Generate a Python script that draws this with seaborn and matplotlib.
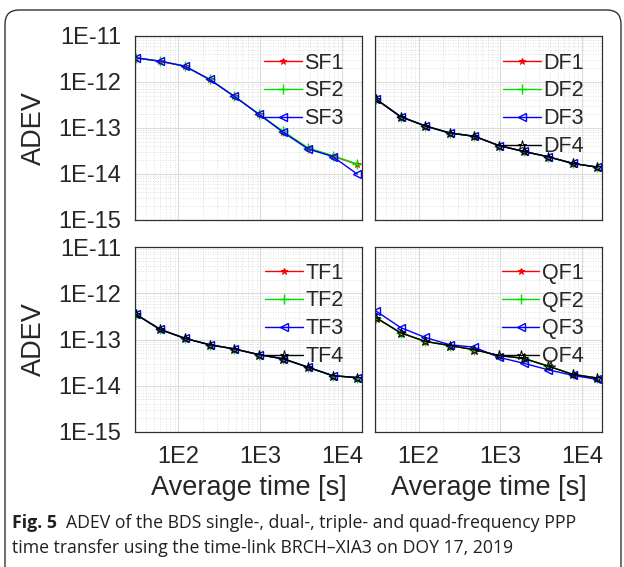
import matplotlib
matplotlib.use("Agg")
import matplotlib.pyplot as plt
import matplotlib.ticker as mticker
from matplotlib.patches import FancyBboxPatch
from matplotlib.transforms import IdentityTransform
import numpy as np
import pandas as pd
import seaborn as sns

# averaging times [s]
tau = [30, 60, 120, 240, 480, 960, 1920, 3840, 7680, 15360]

# ADEV values
sf1 = [3.35e-12, 2.83e-12, 2.21e-12, 1.14e-12, 4.9e-13, 2.0e-13, 8.2e-14, 3.6e-14, 2.45e-14, 1.62e-14]
sf2 = [3.35e-12, 2.83e-12, 2.21e-12, 1.14e-12, 4.9e-13, 2.0e-13, 8.4e-14, 3.7e-14, 2.5e-14, 1.65e-14]
sf3 = [3.35e-12, 2.83e-12, 2.21e-12, 1.14e-12, 4.9e-13, 2.0e-13, 8.0e-14, 3.5e-14, 2.4e-14, 9.9e-15]

df_all = [4.25e-13, 1.77e-13, 1.11e-13, 7.8e-14, 6.6e-14, 4.15e-14, 3.1e-14, 2.37e-14, 1.7e-14, 1.41e-14]

tf_all = [3.55e-13, 1.65e-13, 1.06e-13, 7.7e-14, 6.25e-14, 4.7e-14, 3.8e-14, 2.5e-14, 1.64e-14, 1.49e-14]

qf3 = [4.16e-13, 1.82e-13, 1.11e-13, 7.7e-14, 6.8e-14, 4.1e-14, 3.06e-14, 2.2e-14, 1.67e-14, 1.36e-14]
qf_other = [2.98e-13, 1.4e-13, 9.1e-14, 7.4e-14, 6.0e-14, 4.5e-14, 3.9e-14, 2.65e-14, 1.75e-14, 1.46e-14]

panels = [
    {"names": ["SF1", "SF2", "SF3"], "values": [sf1, sf2, sf3]},
    {"names": ["DF1", "DF2", "DF3", "DF4"], "values": [df_all, df_all, df_all, df_all]},
    {"names": ["TF1", "TF2", "TF3", "TF4"], "values": [tf_all, tf_all, tf_all, tf_all]},
    {"names": ["QF1", "QF2", "QF3", "QF4"], "values": [qf_other, qf_other, qf3, qf_other]},
]

styles = [
    dict(color="#ff0000", marker="*", markerfacecolor="#ff0000", markersize=5),
    dict(color="#00e000", marker="+", markerfacecolor="none", markersize=7, markeredgewidth=1.0),
    dict(color="#0000ff", marker="<", markerfacecolor="none", markersize=5.5, markeredgewidth=1.0),
    dict(color="#000000", marker="*", markerfacecolor="none", markersize=6.5, markeredgewidth=0.7),
]

sns.set_style("white")
plt.rcParams["font.family"] = ["Liberation Sans", "DejaVu Sans"]
text_col = "#262626"

fig = plt.figure(figsize=(6.24, 5.67), dpi=100)
W, H = 624, 567
boxes = [
    (135, 36, 362, 220),
    (375.3, 36, 602, 220),
    (135, 247.3, 362, 431.7),
    (375.3, 247.3, 602, 431.7),
]
legend_anchor = [(352, 44), (592, 44), (352, 254), (592, 254)]

for k, (panel, (x0, y0, x1, y1)) in enumerate(zip(panels, boxes)):
    ax = fig.add_axes([x0 / W, 1 - y1 / H, (x1 - x0) / W, (y1 - y0) / H])
    for name, vals, st in zip(panel["names"], panel["values"], styles):
        d = pd.DataFrame({"tau": tau, "adev": vals})
        sns.lineplot(data=d, x="tau", y="adev", ax=ax, label=name, linewidth=1.0,
                     markeredgecolor=st["color"], **st)
    ax.set_xscale("log")
    ax.set_yscale("log")
    ax.set_xlim(29.5, 17500)
    ax.set_ylim(1e-15, 1e-11)
    ax.xaxis.set_major_locator(mticker.FixedLocator([1e2, 1e3, 1e4]))
    ax.yaxis.set_major_locator(mticker.FixedLocator([1e-15, 1e-14, 1e-13, 1e-12, 1e-11]))
    ax.xaxis.set_minor_locator(mticker.LogLocator(base=10, subs=np.arange(2, 10), numticks=20))
    ax.yaxis.set_minor_locator(mticker.LogLocator(base=10, subs=np.arange(2, 10), numticks=20))
    ax.xaxis.set_minor_formatter(mticker.NullFormatter())
    ax.yaxis.set_minor_formatter(mticker.NullFormatter())
    ax.grid(which="major", color="#dcdcdc", linewidth=0.8, linestyle="-")
    ax.grid(which="minor", color="#d6d6d6", linewidth=0.6, linestyle=(0, (1, 2)))
    ax.set_axisbelow(True)
    ax.tick_params(which="both", direction="in", length=0, colors=text_col,
                   labelsize=17, pad=10)
    for sp in ax.spines.values():
        sp.set_color("#303030")
        sp.set_linewidth(0.9)
    if k >= 2:
        ax.set_xticklabels(["1E2", "1E3", "1E4"])
        ax.set_xlabel("Average time [s]", fontsize=19.5, color=text_col, labelpad=5)
    else:
        ax.set_xticklabels([])
        ax.set_xlabel("")
    if k % 2 == 0:
        ax.set_yticklabels(["1E-15", "1E-14", "1E-13", "1E-12", "1E-11"])
        ax.set_ylabel("ADEV", fontsize=19.5, color=text_col, labelpad=8)
    else:
        ax.set_yticklabels([])
        ax.set_ylabel("")
    ax_anchor = legend_anchor[k]
    leg = ax.legend(loc="upper right", frameon=False, fontsize=15.5, handlelength=1.75,
                    handletextpad=0.1, labelspacing=0.32, borderaxespad=0,
                    bbox_to_anchor=(ax_anchor[0] / W, 1 - ax_anchor[1] / H),
                    bbox_transform=fig.transFigure)
    for t in leg.get_texts():
        t.set_color(text_col)

# caption
cap_font = ["Open Sans", "DejaVu Sans"]
fig.canvas.draw()
t1 = fig.text(12 / W, 1 - 523 / H, "Fig. 5", fontsize=12.8, fontweight="bold",
              family=cap_font, va="center", ha="left", color="#231f20")
fig.canvas.draw()
bb = t1.get_window_extent()
fig.text((bb.x1 + 9) / W, 1 - 523 / H,
         "ADEV of the BDS single-, dual-, triple- and quad-frequency PPP",
         fontsize=12.7, family=cap_font, va="center", ha="left", color="#231f20")
fig.text(12 / W, 1 - 548 / H,
         "time transfer using the time-link BRCH\u2013XIA3 on DOY 17, 2019",
         fontsize=12.7, family=cap_font, va="center", ha="left", color="#231f20")

# rounded frame around the figure
frame = FancyBboxPatch((5, -30), 616, H - 10 + 30, boxstyle="round,pad=0,rounding_size=14",
                       transform=IdentityTransform(), fill=False, edgecolor="#333333",
                       linewidth=1.0)
fig.patches.append(frame)

fig.savefig("out.png", dpi=100)
